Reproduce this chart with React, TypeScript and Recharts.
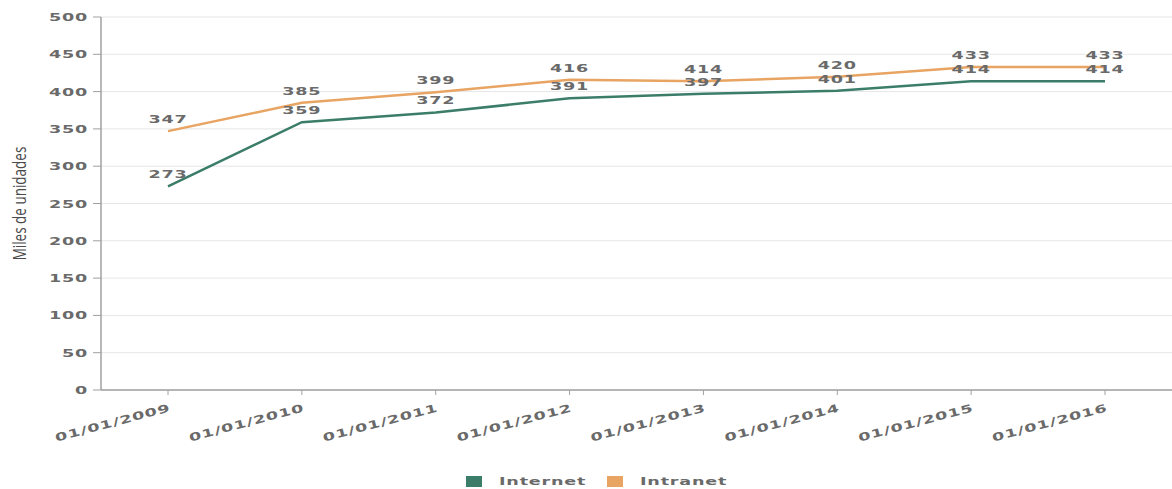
import React from 'react';
import { LineChart, Line, XAxis, YAxis, CartesianGrid, Legend, LabelList } from 'recharts';

const categories = ['01/01/2009', '01/01/2010', '01/01/2011', '01/01/2012', '01/01/2013', '01/01/2014', '01/01/2015', '01/01/2016'];
const internet = [273, 359, 372, 391, 397, 401, 414, 414];
const intranet = [347, 385, 399, 416, 414, 420, 433, 433];
const yTicks = [0, 50, 100, 150, 200, 250, 300, 350, 400, 450, 500];

const data = categories.map((c, i) => ({ date: c, Internet: internet[i], Intranet: intranet[i] }));

const GREEN = '#3b7d69';
const ORANGE = '#e8a462';
const TEXT = '#6a6a6a';
const FONT = 'DejaVu Sans, sans-serif';
const SX = 1.6;

const YTick = (props: any) => {
  const { x, y, payload } = props;
  return (
    <g transform={`translate(${x},${y})`}>
      <text x={0} y={0} dy={4} textAnchor="end" transform={`scale(${SX},1)`} fill={TEXT} fontFamily={FONT} fontWeight="bold" fontSize={11} letterSpacing={0.5}>
        {payload.value}
      </text>
    </g>
  );
};

const XTick = (props: any) => {
  const { x, y, payload } = props;
  return (
    <g transform={`translate(${x + 3},${y + 14}) rotate(-15)`}>
      <text x={0} y={0} textAnchor="end" transform={`scale(${SX},1)`} fill={TEXT} fontFamily={FONT} fontWeight="bold" fontSize={11} letterSpacing={0.5}>
        {payload.value}
      </text>
    </g>
  );
};

const DataLabel = (props: any) => {
  const { x, y, value } = props;
  return (
    <g transform={`translate(${x},${y - 8})`}>
      <text x={0} y={0} textAnchor="middle" transform={`scale(${SX},1)`} fill={TEXT} fontFamily={FONT} fontWeight="bold" fontSize={11} letterSpacing={0.5}>
        {value}
      </text>
    </g>
  );
};

const YTitle = (props: any) => {
  const { viewBox } = props;
  const cx = viewBox.x + 19;
  const cy = viewBox.y + viewBox.height / 2;
  return (
    <g transform={`translate(${cx},${cy}) rotate(-90)`}>
      <text x={0} y={0} transform="scale(1,1.35)" textAnchor="middle" dominantBaseline="central" fill="#4a4a4a" fontFamily="'Open Sans', sans-serif" fontSize={13.5}>
        Miles de unidades
      </text>
    </g>
  );
};

const LegendContent = () => {
  const items = [
    { name: 'Internet', color: GREEN, w: 90 },
    { name: 'Intranet', color: ORANGE, w: 88 },
  ];
  return (
    <div style={{ display: 'flex', justifyContent: 'center', alignItems: 'center', paddingTop: 14, paddingLeft: 22 }}>
      {items.map((it, i) => (
        <div key={it.name} style={{ display: 'flex', alignItems: 'center', marginRight: i === 0 ? 18 : 0 }}>
          <span style={{ display: 'inline-block', width: 16, height: 11, background: it.color, marginRight: 17 }} />
          <svg width={it.w} height={14}>
            <text x={0} y={11} transform={`scale(${SX},1)`} fill={TEXT} fontFamily={FONT} fontWeight="bold" fontSize={11} letterSpacing={0.5}>
              {it.name}
            </text>
          </svg>
        </div>
      ))}
    </div>
  );
};

export default function App() {
  return (
    <div style={{ position: 'absolute', left: 0, top: 0, width: 1172, height: 489, background: '#fff' }}>
      <LineChart width={1172} height={489} data={data} margin={{ top: 17, right: 0, left: 0, bottom: 0 }}>
        <CartesianGrid vertical={false} stroke="#e6e6e6" />
        <XAxis
          dataKey="date"
          padding={{ left: 67, right: 67 }}
          height={70}
          tick={<XTick />}
          tickSize={5}
          tickMargin={2}
          interval={0}
          axisLine={{ stroke: '#a0a0a0', strokeWidth: 1.5 }}
          tickLine={{ stroke: '#a0a0a0' }}
        />
        <YAxis
          domain={[0, 500]}
          ticks={yTicks}
          width={101}
          tick={<YTick />}
          tickSize={8}
          tickMargin={5}
          interval={0}
          axisLine={{ stroke: '#a0a0a0', strokeWidth: 1.5 }}
          tickLine={{ stroke: '#a0a0a0' }}
          label={<YTitle />}
        />
        <Legend verticalAlign="bottom" height={29} content={<LegendContent />} />
        <Line type="linear" dataKey="Internet" stroke={GREEN} strokeWidth={2.5} dot={false} isAnimationActive={false}>
          <LabelList dataKey="Internet" content={<DataLabel />} />
        </Line>
        <Line type="linear" dataKey="Intranet" stroke={ORANGE} strokeWidth={2.5} dot={false} isAnimationActive={false}>
          <LabelList dataKey="Intranet" content={<DataLabel />} />
        </Line>
      </LineChart>
    </div>
  );
}
